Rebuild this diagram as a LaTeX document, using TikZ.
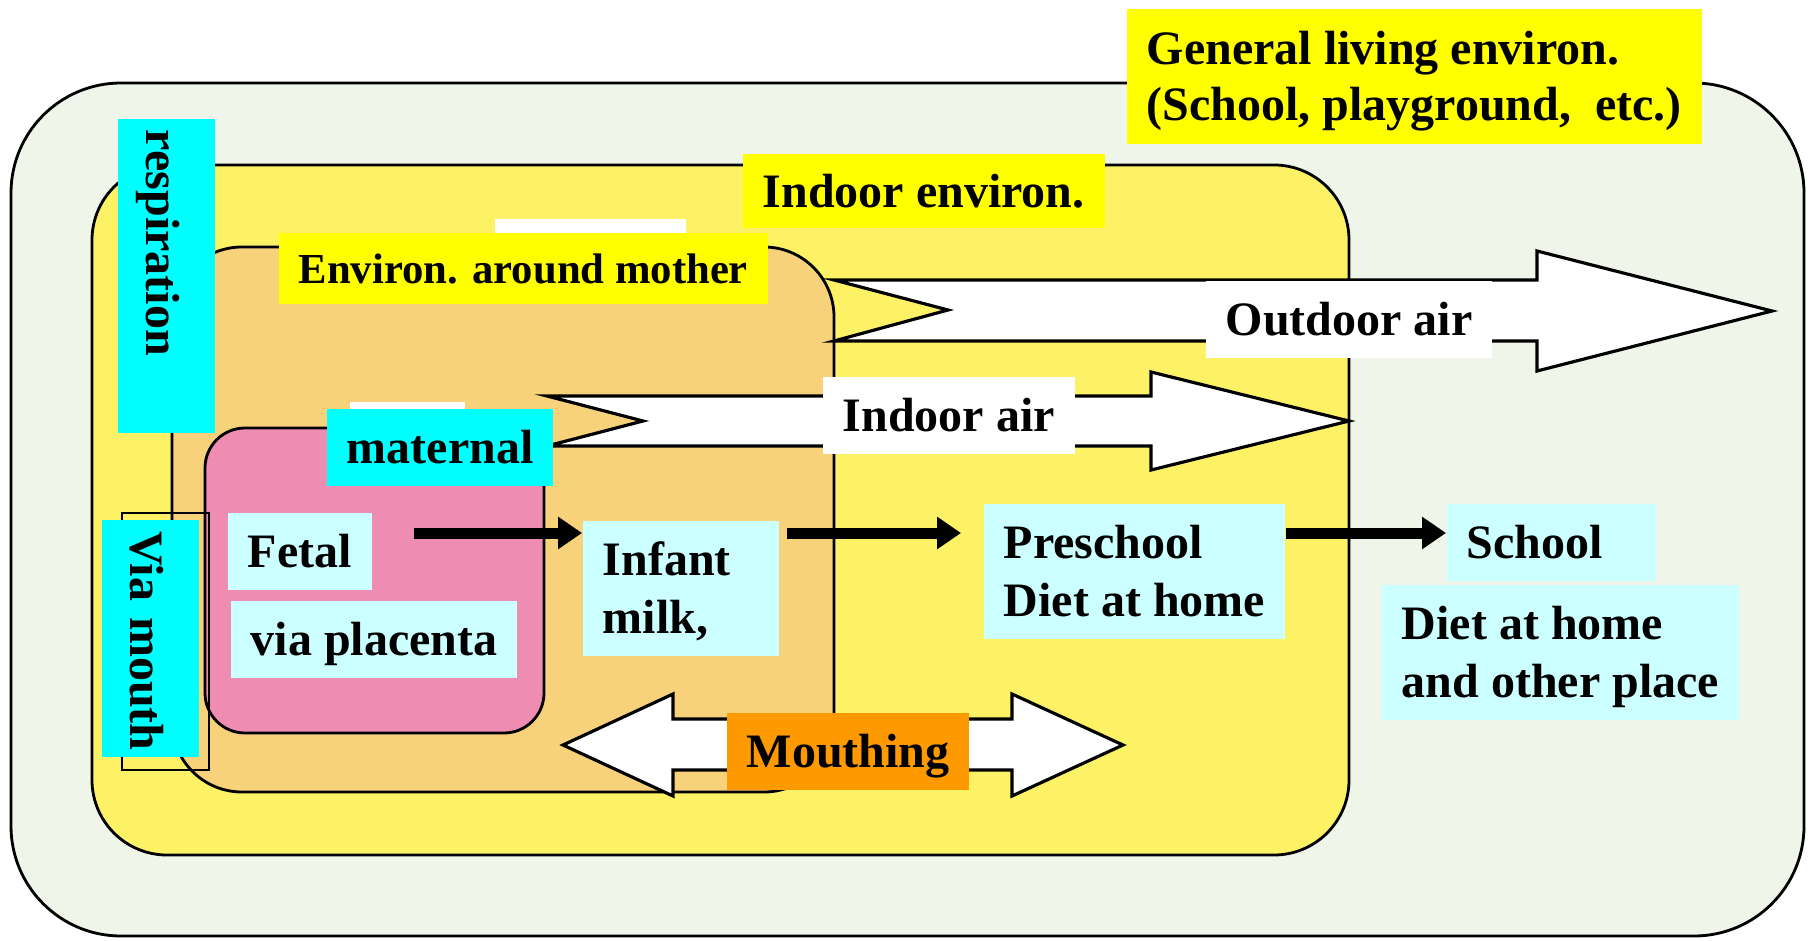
\documentclass[tikz,border=0pt]{standalone}
\usepackage{fontspec}
\setmainfont{Liberation Serif}
\usetikzlibrary{arrows.meta}
\definecolor{paleout}{HTML}{F0F5EA}
\definecolor{indoorye}{HTML}{FDF266}
\definecolor{mothertan}{HTML}{F7D27A}
\definecolor{fetalpink}{HTML}{EF8CB2}
\definecolor{lightcy}{HTML}{CCFFFF}
\definecolor{labelcy}{HTML}{00FFFF}
\definecolor{labelye}{HTML}{FFFF00}
\definecolor{mouthor}{HTML}{FF9900}
\newcommand{\upstrut}[1][5.5mm]{\rule{0pt}{#1}}
\newcommand{\dnstrut}[1][2.2mm]{\rule[-#1]{0pt}{#1}}
\begin{document}
\begin{tikzpicture}[x=0.1mm,y=-0.1mm,
	lbl/.style={anchor=north west,inner xsep=2mm,inner ysep=0pt,align=left,font=\fontsize{13.66pt}{16.5pt}\selectfont\bfseries},
	vlbl/.style={fill=labelcy,rotate=-90,inner xsep=1.1mm,inner ysep=0pt,align=left,text height=6.9mm,text depth=2.8mm,font=\fontsize{13.66pt}{16.5pt}\selectfont\bfseries},
	area/.style={draw,line width=0.8pt},
	block/.style={draw,fill=white,line width=0.9pt},
	flow/.style={line width=1.1mm,-{Triangle[length=2.4mm,width=3.1mm]}}]
		\fill[white] (0,0) rectangle (1815,941);
		\fill[white!97!paleout] (0,38) rectangle (1815,941);
		\path[area,fill=paleout,rounded corners=11mm] (11,83) rectangle (1804,936);
		\path[area,fill=indoorye,rounded corners=7.5mm] (92,165) rectangle (1349,855);
		\path[area,fill=mothertan,rounded corners=7mm] (172,247) rectangle (834,792);
		\fill[white] (495,219) rectangle (686,302);
		\fill[white] (350,402) rectangle (465,420);
		\path[area,fill=fetalpink,rounded corners=4mm] (205,428) rectangle (544,733);
		\draw[line width=0.7pt] (122,513) rectangle (209,770);

		\path[block] (834,280) -- (1537,280) -- (1537,251) -- (1772,311) -- (1537,371) -- (1537,341) -- (834,341) -- (948,310) -- cycle;
		\path[block] (547,396) -- (1151,396) -- (1151,372) -- (1349,421) -- (1151,470) -- (1151,446) -- (547,446) -- (643,421) -- cycle;
		\path[block] (563,745) -- (673,694) -- (673,719) -- (1012,719) -- (1012,694) -- (1123,745) -- (1012,796) -- (1012,770) -- (673,770) -- (673,796) -- cycle;

		\node[lbl,fill=labelye,font=\fontsize{13.66pt}{15.9pt}\selectfont\bfseries] (general) at (1126,8) {\upstrut[5.6mm]General living environ.\\(School, playground,\ \ etc.)\dnstrut[2.3mm]};
		\node[lbl,fill=labelye] (indoorenv) at (742,153) {\upstrut[5.4mm]Indoor environ.\dnstrut[2.0mm]};
		\node[lbl,fill=labelye,font=\fontsize{12.15pt}{14pt}\selectfont\bfseries] (mother) at (278,232) {\upstrut[5.1mm]Environ. around mother\dnstrut[2.0mm]};
		\node[vlbl,text width=29.2mm] (resp) at (166.5,276) {respiration};
		\node[vlbl,text width=21.5mm] (viamouth) at (150.5,638.5) {\mbox{Via mouth}};
		\node[lbl,fill=labelcy] (maternal) at (326,408) {\upstrut maternal\dnstrut};
		\node[lbl,fill=lightcy] (fetal) at (227,512) {\upstrut Fetal\dnstrut};
		\node[lbl,fill=lightcy] (placenta) at (230,600) {\upstrut via placenta\dnstrut};
		\node[lbl,fill=lightcy,text width=15.6mm] (infant) at (582,520) {\upstrut Infant\\milk,\dnstrut};
		\node[lbl,fill=lightcy] (preschool) at (983,503) {\upstrut Preschool\\Diet at home\dnstrut};
		\node[lbl,fill=lightcy,text width=16.9mm] (school) at (1446,503) {\upstrut School\dnstrut};
		\node[lbl,fill=lightcy] (dietall) at (1381,584) {\upstrut Diet at home\\and other place\dnstrut};
		\node[lbl,fill=mouthor] (mouthing) at (726,712) {\upstrut Mouthing\dnstrut};
		\node[lbl,fill=white] (indoorair) at (822,376) {\upstrut Indoor air\dnstrut};
		\node[lbl,fill=white] (outdoorair) at (1205,280) {\upstrut Outdoor air\dnstrut};

		\coordinate (fetalout) at (414,533);
		\draw[flow] (fetalout) -- (fetalout -| infant.west);
		\draw[flow,shorten <=0.8mm,shorten >=2.2mm] (infant.east |- fetalout) -- (fetalout -| preschool.west);
		\draw[flow] (preschool.east |- fetalout) -- (fetalout -| school.west);
\end{tikzpicture}
\end{document}
